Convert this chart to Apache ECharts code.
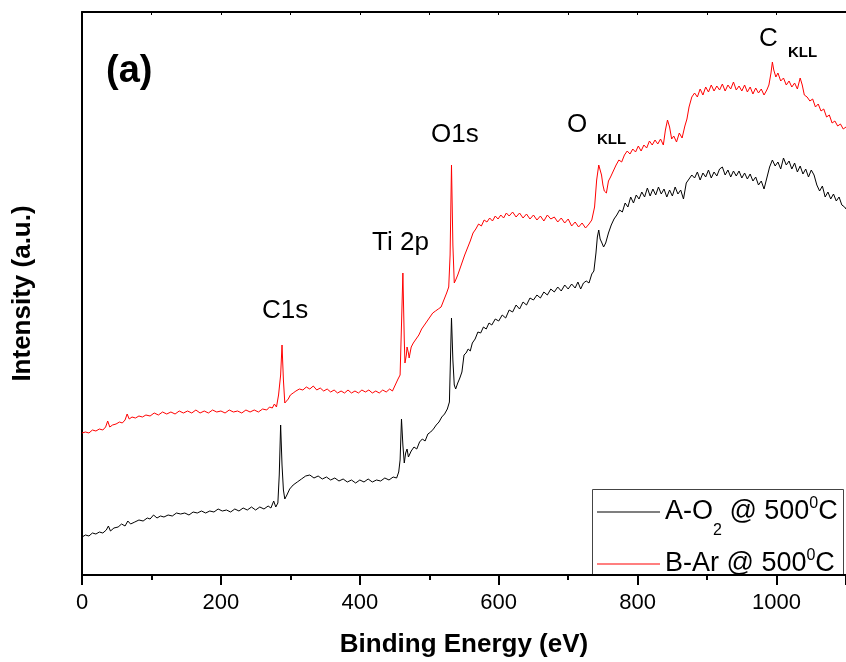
<!DOCTYPE html>
<html>
<head>
<meta charset="utf-8">
<script src="https://cdn.jsdelivr.net/npm/echarts@6/dist/echarts.min.js"></script>
<style>
  html, body { margin: 0; padding: 0; background: #fff; }
  #chart { width: 846px; height: 662px; }
</style>
</head>
<body>
<div id="chart"></div>
<script>
// XPS survey spectra, [binding energy (eV), intensity (a.u.)]
const seriesNames = ["A-O2 @ 5000C", "B-Ar @ 5000C"];

const spectrumA = [
  [0,38],[5,40],[10,39],[15,42],[20,41],[25,43],[30,42],[35,45],[38,49],[41,44],[46,47],[52,48],
  [57,51],[62,49],[66,54],[70,51],[76,53],[82,55],[88,54],[94,57],[98,56],[103,60],[108,57],[113,59],
  [118,58],[124,60],[130,59],[136,62],[142,61],[148,62],[154,60],[160,63],[166,62],[172,64],[178,62],
  [184,64],[190,63],[196,66],[202,64],[208,65],[214,63],[220,66],[226,64],[232,67],[238,65],[244,68],
  [250,65],[256,68],[262,66],[268,69],[272,67],[276,74],[279,68],[282,72],[284,100],[286,150],[288,110],
  [290,85],[292,76],[295,80],[299,86],[304,90],[310,93],[316,96],[322,99],[328,100],[334,97],[340,99],
  [346,96],[352,98],[358,95],[364,97],[370,94],[376,96],[382,93],[388,95],[394,92],[400,95],[406,93],
  [412,96],[418,93],[424,95],[430,94],[436,97],[442,95],[448,98],[453,97],[456,103],[458,115],[460,156],
  [462,130],[464,112],[466,122],[468,126],[470,118],[474,124],[478,128],[482,126],[486,133],[490,136],
  [494,134],[498,141],[502,143],[506,146],[510,150],[514,153],[518,158],[522,161],[526,166],[529,173],
  [531,230],[532,257],[534,215],[536,190],[538,186],[541,192],[544,197],[547,203],[550,220],[553,222],
  [556,226],[559,224],[562,232],[566,236],[570,243],[574,242],[578,248],[582,246],[586,252],[590,250],
  [595,256],[600,254],[605,260],[610,257],[615,265],[620,263],[625,270],[630,266],[635,273],[640,270],
  [645,277],[650,275],[655,280],[660,277],[665,283],[670,280],[675,286],[680,283],[685,288],[690,284],
  [695,290],[700,286],[705,291],[710,287],[714,293],[718,286],[722,292],[726,294],[730,292],[734,301],
  [737,304],[740,322],[742,338],[744,345],[746,336],[748,333],[751,328],[754,332],[758,342],[762,350],
  [766,356],[770,360],[774,365],[778,363],[782,372],[786,368],[790,378],[794,372],[798,380],[802,376],
  [806,383],[810,378],[814,387],[818,379],[822,386],[826,380],[830,388],[834,381],[838,386],[842,378],
  [846,385],[850,379],[854,388],[858,381],[862,385],[866,376],[870,392],[874,396],[878,400],[882,397],
  [886,403],[890,395],[894,402],[898,398],[902,405],[906,397],[910,403],[914,399],[918,406],[922,408],
  [926,400],[930,405],[934,398],[938,404],[942,399],[946,404],[950,397],[954,402],[958,396],[962,401],
  [966,394],[970,398],[974,390],[978,394],[982,386],[986,397],[990,408],[994,415],[998,409],[1002,413],
  [1006,406],[1010,417],[1014,410],[1018,414],[1022,406],[1026,412],[1030,403],[1034,409],[1038,401],
  [1042,406],[1046,398],[1050,405],[1054,400],[1058,390],[1062,384],[1066,389],[1070,378],[1074,383],
  [1078,376],[1082,381],[1086,374],[1090,378],[1094,370],[1098,368],[1100,366]
];

const spectrumB = [
  [0,142],[5,143],[10,142],[15,145],[20,144],[25,146],[30,145],[34,148],[37,154],[40,148],[44,150],
  [49,151],[54,153],[58,152],[62,155],[65,161],[68,156],[72,158],[77,157],[82,159],[87,158],[92,160],
  [98,159],[104,162],[110,160],[116,163],[122,161],[128,163],[134,161],[140,164],[146,162],[152,164],
  [158,162],[164,165],[170,162],[176,164],[182,162],[188,165],[194,163],[200,164],[206,162],[212,165],
  [218,163],[224,164],[230,162],[236,165],[242,163],[248,165],[254,163],[260,166],[266,165],[270,168],
  [274,167],[277,171],[280,168],[283,180],[286,200],[288,230],[290,195],[292,172],[294,170],[297,176],
  [300,180],[304,182],[308,184],[313,186],[318,185],[323,188],[328,186],[333,189],[338,185],[343,187],
  [348,184],[353,186],[358,183],[363,185],[368,182],[373,184],[378,182],[383,185],[388,182],[393,184],
  [398,182],[403,185],[408,183],[413,185],[418,182],[423,184],[428,182],[433,185],[438,183],[443,186],
  [447,184],[451,190],[455,196],[458,200],[460,250],[462,302],[464,235],[465,212],[467,220],[468,228],
  [470,222],[471,217],[474,228],[477,232],[481,236],[485,240],[489,246],[493,250],[497,254],[501,258],
  [505,262],[509,264],[513,266],[517,268],[521,275],[525,282],[528,288],[530,320],[532,410],[534,330],
  [536,292],[538,295],[541,300],[544,306],[547,312],[551,320],[555,327],[559,334],[563,342],[567,346],
  [571,351],[575,349],[579,355],[583,353],[587,357],[591,354],[595,359],[599,356],[603,360],[607,357],
  [611,362],[615,359],[620,363],[625,358],[630,362],[635,357],[640,361],[645,356],[650,360],[655,355],
  [660,359],[665,354],[670,360],[675,356],[680,358],[685,353],[690,357],[695,352],[700,356],[705,349],
  [710,353],[715,348],[720,352],[725,347],[730,351],[734,355],[738,368],[741,395],[744,410],[746,412],
  [748,400],[750,390],[752,384],[755,382],[758,394],[761,398],[765,404],[769,410],[773,415],[777,413],
  [781,420],[785,424],[789,421],[793,426],[797,423],[801,429],[805,424],[809,430],[813,427],[817,434],
  [821,430],[825,435],[829,431],[833,436],[837,430],[840,445],[843,455],[846,448],[849,436],[852,439],
  [856,433],[860,442],[864,437],[868,449],[871,456],[874,468],[878,478],[882,482],[886,478],[890,486],
  [894,480],[898,488],[902,483],[906,490],[910,484],[914,489],[918,485],[922,491],[926,484],[930,490],
  [934,486],[938,493],[942,485],[946,489],[950,484],[954,490],[958,483],[962,488],[966,481],[970,487],
  [974,482],[978,486],[982,480],[986,485],[989,490],[992,502],[994,513],[996,505],[999,498],[1002,502],
  [1006,494],[1010,497],[1014,490],[1018,494],[1022,488],[1026,492],[1030,486],[1034,497],[1037,490],
  [1040,480],[1044,478],[1048,474],[1052,476],[1056,468],[1060,471],[1064,464],[1068,466],[1072,458],
  [1076,460],[1080,452],[1084,454],[1088,449],[1092,451],[1096,446],[1100,448]
];

const FONT = 'Arial, "Liberation Sans", Helvetica, sans-serif';

// peak annotations: [text, left, middle y, size, bold]
const peakLabels = [
  ["(a)", 106, 72, 38, true],
  ["C1s", 262, 311, 26, false],
  ["Ti 2p", 372, 243, 26, false],
  ["O1s", 431, 135, 26, false],
  ["O", 567, 125, 26, false],
  ["KLL", 597, 140, 15, true],
  ["C", 759, 39, 26, false],
  ["KLL", 788, 53, 15, true]
];

const chart = echarts.init(document.getElementById("chart"));

const legendRich = {
  m: { fontSize: 27, lineHeight: 44, color: "#000", fontFamily: FONT },
  s: { fontSize: 16, lineHeight: 10, verticalAlign: "top", padding: [33, 0, 0, 0], color: "#000", fontFamily: FONT },
  p: { fontSize: 16, lineHeight: 10, verticalAlign: "top", padding: [6, 0, 0, 0], color: "#000", fontFamily: FONT }
};

chart.setOption({
  animation: false,
  backgroundColor: "#fff",
  grid: { left: 82, right: 0, top: 12, bottom: 87, containLabel: false, outerBoundsMode: "none" },
  legend: {
    data: seriesNames,
    orient: "vertical",
    left: 592,
    top: 489,
    padding: [1, 3, 0, 5],
    icon: "rect",
    itemWidth: 63,
    itemHeight: 1,
    itemGap: 3,
    formatter: (name) =>
      name === seriesNames[0]
        ? "{m|A-O}{s|2}{m| @ 500}{p|0}{m|C}"
        : "{m|B-Ar @ 500}{p|0}{m|C}",
    textStyle: { rich: legendRich }
  },
  xAxis: [
    {
      type: "value",
      min: 0,
      max: 1100,
      interval: 200,
      name: "Binding Energy (eV)",
      nameLocation: "middle",
      nameGap: 57,
      nameTextStyle: { fontSize: 26, fontWeight: "bold", color: "#000", fontFamily: FONT },
      axisLine: { lineStyle: { color: "#000", width: 2 } },
      axisTick: { length: 10, lineStyle: { color: "#000", width: 2 } },
      minorTick: { show: true, splitNumber: 2, length: 5, lineStyle: { color: "#000", width: 2 } },
      axisLabel: {
        fontSize: 22,
        color: "#000",
        margin: 17,
        fontFamily: FONT,
        showMaxLabel: false,
        formatter: (v) => String(v)
      },
      splitLine: { show: false }
    },
    {
      type: "value",
      position: "top",
      min: 0,
      max: 1100,
      interval: 100,
      axisLine: { lineStyle: { color: "#000", width: 2 } },
      axisTick: { inside: true, length: 3, lineStyle: { color: "#000", width: 1 } },
      axisLabel: { show: false },
      splitLine: { show: false }
    }
  ],
  yAxis: {
    type: "value",
    min: 0,
    max: 563,
    name: "Intensity (a.u.)",
    nameLocation: "middle",
    nameGap: 46,
    nameTextStyle: { fontSize: 26, fontWeight: "bold", color: "#000", fontFamily: FONT },
    axisLine: { show: true, lineStyle: { color: "#000", width: 2 } },
    axisTick: { show: false },
    axisLabel: { show: false },
    splitLine: { show: false }
  },
  series: [
    {
      name: seriesNames[0],
      type: "line",
      data: spectrumA,
      symbol: "none",
      lineStyle: { color: "#000", width: 1 },
      itemStyle: { color: "#000" }
    },
    {
      name: seriesNames[1],
      type: "line",
      data: spectrumB,
      symbol: "none",
      lineStyle: { color: "#ff0000", width: 1 },
      itemStyle: { color: "#ff0000" }
    }
  ],
  graphic: [
    {
      type: "rect",
      z: -1,
      shape: { x: 592.5, y: 489.5, width: 251, height: 85.5 },
      style: { fill: "#fff", stroke: "#444", lineWidth: 1 }
    }
  ].concat(
    peakLabels.map(([text, x, y, size, bold]) => ({
      type: "text",
      x: x,
      y: y,
      z: 10,
      style: {
        text: text,
        font: (bold ? "bold " : "") + size + "px " + FONT,
        fill: "#000",
        align: "left",
        verticalAlign: "middle"
      }
    }))
  )
});
</script>
</body>
</html>
